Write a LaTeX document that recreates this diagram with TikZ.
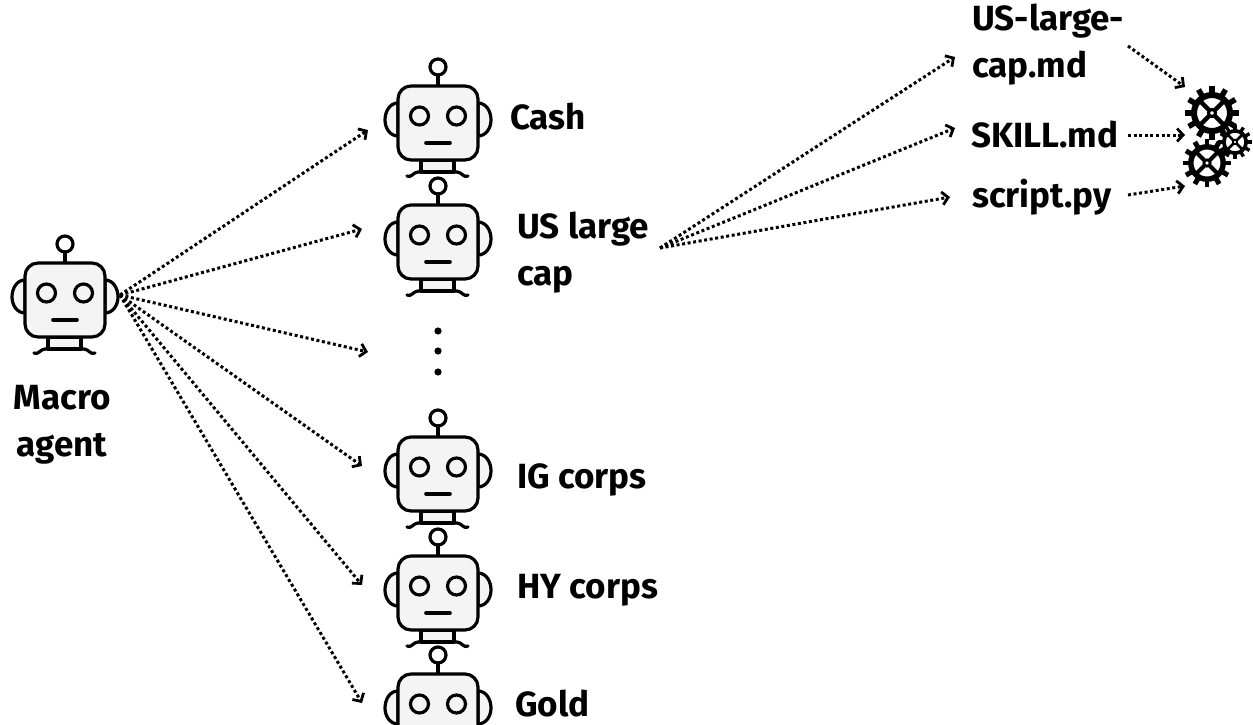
\documentclass[tikz,border=0pt]{standalone}
\usepackage{fontspec}
\setmainfont{Fira Sans}
\usetikzlibrary{arrows.meta}
\definecolor{robotgray}{HTML}{F4F4F4}
\tikzset{
	lab/.style={anchor=west,inner sep=0pt,align=left,font=\bfseries\fontsize{35}{36}\selectfont},
	dotarrow/.style={line width=3pt,dash pattern=on 3pt off 2.6pt,-{Straight Barb[length=6pt,width=13pt,line width=2.8pt]}},
	robotline/.style={line width=3.2pt,line cap=round,line join=round}
}
\begin{document}
\begin{tikzpicture}[x=1pt,y=-1pt]
\useasboundingbox (0,0) rectangle (1253,725);
\foreach \a/\b/\name in {65/300/macro,438/123/cash,438/242/uslarge,438/474/igcorps,438/593/hycorps,438/711/gold} {
	\begin{scope}[shift={(\a,\b)}]
		\coordinate (\name) at (0,0);
		% Draw ears
		\draw[robotline,fill=robotgray] (-40,-20) to[out=180,in=90] (-53,-3) to[out=-90,in=180] (-40,13) -- cycle;
		\draw[robotline,fill=robotgray] (40,-20) to[out=0,in=90] (53,-3) to[out=-90,in=0] (40,13) -- cycle;
		% Draw antenna
		\draw[robotline] (0,-37) -- (0,-48);
		\draw[robotline] (0,-56) circle [radius=8];
		% Draw neck and feet
		\draw[robotline,fill=robotgray] (-17,37) rectangle (16,49);
		\draw[robotline] (-31,53) to[out=-35,in=180] (-20,49) -- (19,49) to[out=0,in=215] (30,53);
		% Draw head
		\draw[robotline,fill=robotgray,rounded corners=13pt] (-40,-37) rectangle (40,37);
		% Draw eyes
		\draw[robotline] (-18.5,-7) circle [radius=9];
		\draw[robotline] (18.5,-7) circle [radius=9];
		% Draw mouth
		\draw[line width=3.6pt,line cap=round] (-12,20) -- (12,20);
	\end{scope}
}
% Draw gears
\foreach \a/\b/\s/\n in {1212/113/1/gearone,1207/163/.9/geartwo,1235/142/.62/gearthree} {
	\begin{scope}[shift={(\a,\b)},scale=\s]
		\coordinate (\n) at (0,0);
		\foreach \r in {0,30,...,330} {
			\draw[line width=\s*5.5pt] (\r:18) -- (\r:27);
		}
		\draw[line width=\s*6pt,fill=white] (0,0) circle [radius=18];
		\foreach \r in {45,135,225,315} {
			\draw[line width=\s*4.5pt] (0,0) -- (\r:18);
		}
		\draw[line width=\s*3pt,fill=white] (0,0) circle [radius=3.5];
	\end{scope}
}
% Draw the dots
\foreach \y/\n in {331/dotone,351/dottwo,372/dotthree} {
	\fill (438,\y) circle [radius=3.6] coordinate (\n);
}
% Labels
\node[lab,align=center,anchor=center] (macrolab) at (62,425) {Macro\\[11pt]agent};
\node[lab] (cashlab) at (510,117) {Cash};
\node[lab] (uslab) at (517,253) {US large\\[11pt]cap};
\node[lab] (iglab) at (517,480) {IG corps};
\node[lab] (hylab) at (517,590) {HY corps};
\node[lab] (goldlab) at (515,704) {Gold};
\node[lab] (mdlab) at (972,45) {US-large-\\[11pt]cap.md};
\node[lab] (skilllab) at (971,135) {SKILL.md};
\node[lab] (scriptlab) at (972,197) {script.py};
% Connector ends
\coordinate (macroout) at (120,295);
\coordinate (usout) at (660,248);
\coordinate (cashin) at (368,130);
\coordinate (usin) at (362,229);
\coordinate (dotsin) at (368,352);
\coordinate (igin) at (362,466);
\coordinate (hyin) at (362,585);
\coordinate (goldin) at (362,703);
\coordinate (mdin) at (955,57);
\coordinate (skillin) at (955,128);
\coordinate (scriptin) at (950,197);
\coordinate (mdout) at (1128,46);
\coordinate (skillout) at (1128,135);
\coordinate (scriptout) at (1128,195);
\coordinate (gearin) at (1185,87);
\coordinate (gearmid) at (1185,135);
\coordinate (gearlow) at (1185,186);
\foreach \e in {cashin,usin,dotsin,igin,hyin,goldin} {
	\draw[dotarrow] (macroout) -- (\e);
}
\foreach \e in {mdin,skillin,scriptin} {
	\draw[dotarrow] (usout) -- (\e);
}
\foreach \s/\e in {mdout/gearin,skillout/gearmid,scriptout/gearlow} {
	\draw[dotarrow] (\s) -- (\e);
}
\end{tikzpicture}
\end{document}
